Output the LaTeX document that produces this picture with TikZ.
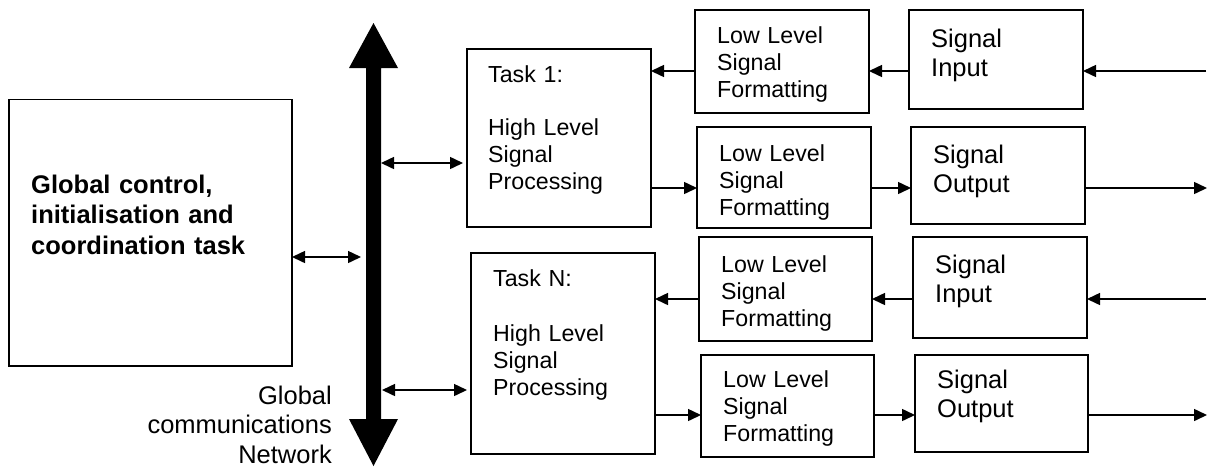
\documentclass[tikz,border=0pt]{standalone}
\usepackage{fontspec}
\setmainfont{Liberation Sans}
\usetikzlibrary{arrows.meta}
\begin{document}
\begin{tikzpicture}[x=1pt,y=-1pt,
  box/.style={draw, line width=1.8pt, inner sep=0pt, outer sep=0pt, anchor=north west},
  txt/.style={inner sep=0pt, text width=240pt, align=left, anchor=base west,
    font=\fontsize{23.2}{27}\selectfont},
  sigtxt/.style={txt, font=\fontsize{25.5}{29}\selectfont},
  boldtxt/.style={txt, font=\fontsize{25.5}{30.5}\selectfont\bfseries},
  nettxt/.style={inner sep=0pt, text width=240pt, align=right, anchor=base east,
    font=\fontsize{25.5}{29.5}\selectfont},
  tip/.tip={Triangle[length=13pt,width=12pt]},
  arr/.style={line width=1.5pt, -tip},
  darr/.style={line width=1.5pt, tip-tip}]
\useasboundingbox (0,0) rectangle (1208,467);

% global control box
\node[box, minimum width=283pt, minimum height=266.5pt] (global) at (9,99.5) {};
\node[boldtxt] (globaltxt) at (31,193) {Global control,\\initialisation and\\coordination task};

% bus
\coordinate (bustop) at (373.5,23);
\coordinate (busbot) at (373.5,466);
\fill (366,68) -- (349,68) -- (bustop) -- (398,68) -- (381,68) -- (381,419)
  -- (398,419) -- (busbot) -- (349,419) -- (366,419) -- cycle;
\node[nettxt] (nettext) at (332,404) {Global\\communications\\Network};
\coordinate (busG) at (361,257);
\coordinate (bus1) at (381,163);
\coordinate (busN) at (382,390);

% task boxes
\node[box, minimum width=184pt, minimum height=178pt] (task1) at (467,49) {};
\node[txt] (task1txt) at (488,82) {Task 1:\\[26pt]High Level\\Signal\\Processing};
\node[box, minimum width=184pt, minimum height=201pt] (taskN) at (471,253) {};
\node[txt] (taskNtxt) at (493,286) {Task N:\\[28pt]High Level\\Signal\\Processing};

% low level formatting boxes
\node[box, minimum width=174pt, minimum height=103pt] (llin1) at (695,10) {};
\node[txt] (llin1txt) at (717,43) {Low Level\\Signal\\Formatting};
\node[box, minimum width=174pt, minimum height=101pt] (llout1) at (697,127) {};
\node[txt] (llout1txt) at (719,161) {Low Level\\Signal\\Formatting};
\node[box, minimum width=173pt, minimum height=104pt] (llin2) at (699,237) {};
\node[txt] (llin2txt) at (721,272) {Low Level\\Signal\\Formatting};
\node[box, minimum width=173pt, minimum height=102pt] (llout2) at (701,355) {};
\node[txt] (llout2txt) at (723,387) {Low Level\\Signal\\Formatting};

% signal boxes
\node[box, minimum width=174pt, minimum height=99pt] (sin1) at (909,10) {};
\node[sigtxt] (sin1txt) at (931,47) {Signal\\Input};
\node[box, minimum width=174pt, minimum height=97pt] (sout1) at (911,127) {};
\node[sigtxt] (sout1txt) at (933,163) {Signal\\Output};
\node[box, minimum width=174pt, minimum height=101pt] (sin2) at (913,237) {};
\node[sigtxt] (sin2txt) at (935,273) {Signal\\Input};
\node[box, minimum width=173pt, minimum height=97pt] (sout2) at (915,355) {};
\node[sigtxt] (sout2txt) at (937,388) {Signal\\Output};

\coordinate (ext1in) at (1206,71);
\coordinate (ext1out) at (1207,188);
\coordinate (ext2in) at (1206,299);
\coordinate (ext2out) at (1207,415);

% connectors upper channel
\draw[arr] (ext1in) -- (sin1.east |- ext1in);
\draw[arr] (sin1.west |- ext1in) -- (llin1.east |- ext1in);
\draw[arr] (llin1.west |- ext1in) -- (task1.east |- ext1in);
\draw[arr] (task1.east |- ext1out) -- (llout1.west |- ext1out);
\draw[arr] (llout1.east |- ext1out) -- (sout1.west |- ext1out);
\draw[arr] (sout1.east |- ext1out) -- (ext1out);

% connectors lower channel
\draw[arr] (ext2in) -- (sin2.east |- ext2in);
\draw[arr] (sin2.west |- ext2in) -- (llin2.east |- ext2in);
\draw[arr] (llin2.west |- ext2in) -- (taskN.east |- ext2in);
\draw[arr] (taskN.east |- ext2out) -- (llout2.west |- ext2out);
\draw[arr] (llout2.east |- ext2out) -- (sout2.west |- ext2out);
\draw[arr] (sout2.east |- ext2out) -- (ext2out);

% bus connections
\draw[darr] (global.east |- busG) -- (busG);
\draw[darr, shorten >=4pt] (bus1) -- (task1.west |- bus1);
\draw[darr, shorten >=4pt] (busN) -- (taskN.west |- busN);
\end{tikzpicture}
\end{document}
